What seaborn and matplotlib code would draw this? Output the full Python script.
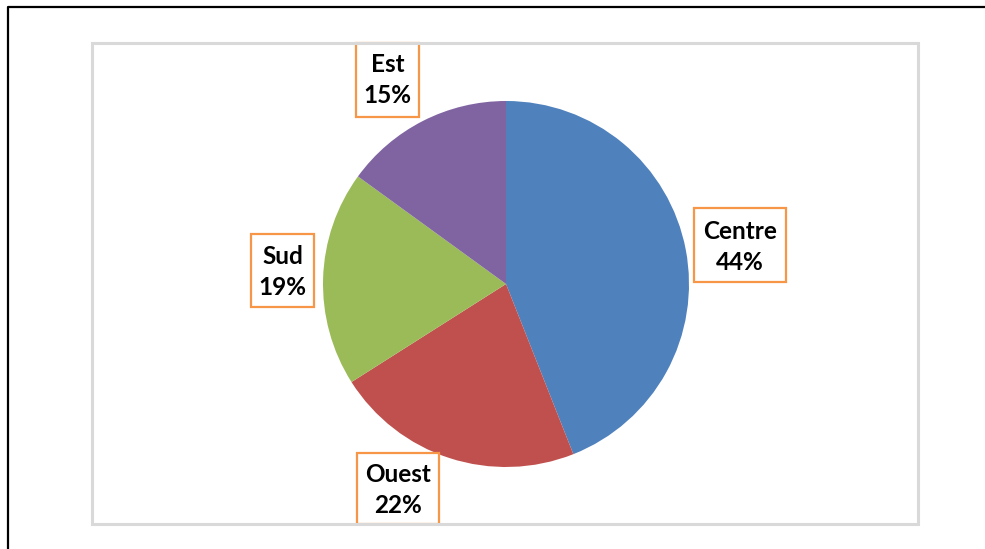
"""Pie chart: répartition par région (Centre, Ouest, Sud, Est)."""

import matplotlib

matplotlib.use("Agg")
import matplotlib.pyplot as plt
import seaborn as sns
from matplotlib.patches import Rectangle

sns.set_theme(style="white")
plt.rcParams["font.family"] = ["Lato", "DejaVu Sans"]

# ── Data ──────────────────────────────────────────────────────────────────────

regions = ["Centre", "Ouest", "Sud", "Est"]
shares = [44, 22, 19, 15]
colors = ["#4F81BD", "#C0504D", "#9BBB59", "#8064A2"]

# label boxes in pixel coords (left, top, right, bottom)
label_boxes = {
    "Centre": (694, 208, 786, 282),
    "Ouest": (357, 453, 439, 524),
    "Sud": (251, 234, 314, 307),
    "Est": (356, 43, 419, 117),
}

W, H = 985, 549


def py(y):
    return H - y


fig = plt.figure(figsize=(W / 100, H / 100), dpi=100)
ax = fig.add_axes([0, 0, 1, 1])

ax.pie(shares, colors=colors, startangle=90, counterclock=False,
       center=(506, py(284)), radius=183,
       wedgeprops=dict(edgecolor="none", linewidth=0))

ax.set_xlim(0, W)
ax.set_ylim(0, H)
ax.set_aspect("equal")
ax.axis("off")

# labels
text_centers = {"Centre": 247, "Ouest": 490, "Sud": 272, "Est": 80}
for name, share in zip(regions, shares):
    l, t, r, b = label_boxes[name]
    ax.add_patch(Rectangle((l, py(b)), r - l, b - t, facecolor="white",
                           edgecolor="#F79646", linewidth=1.6, zorder=3))
    ax.text((l + r) / 2, py(text_centers[name]), f"{name}\n{share}%", ha="center",
            va="center", fontsize=17.5, fontweight="bold", color="black",
            linespacing=1.45, zorder=4)

# chart area frame (light gray) and outer black frame
ax.add_patch(Rectangle((92, py(524)), 918 - 92, 524 - 43, fill=False,
                       edgecolor="#D9D9D9", linewidth=2.2, zorder=5))
ax.plot([8, 8, W + 5], [-5, py(7), py(7)], color="black", linewidth=1.6,
        zorder=6, clip_on=False)

fig.savefig("out.png", dpi=100)
